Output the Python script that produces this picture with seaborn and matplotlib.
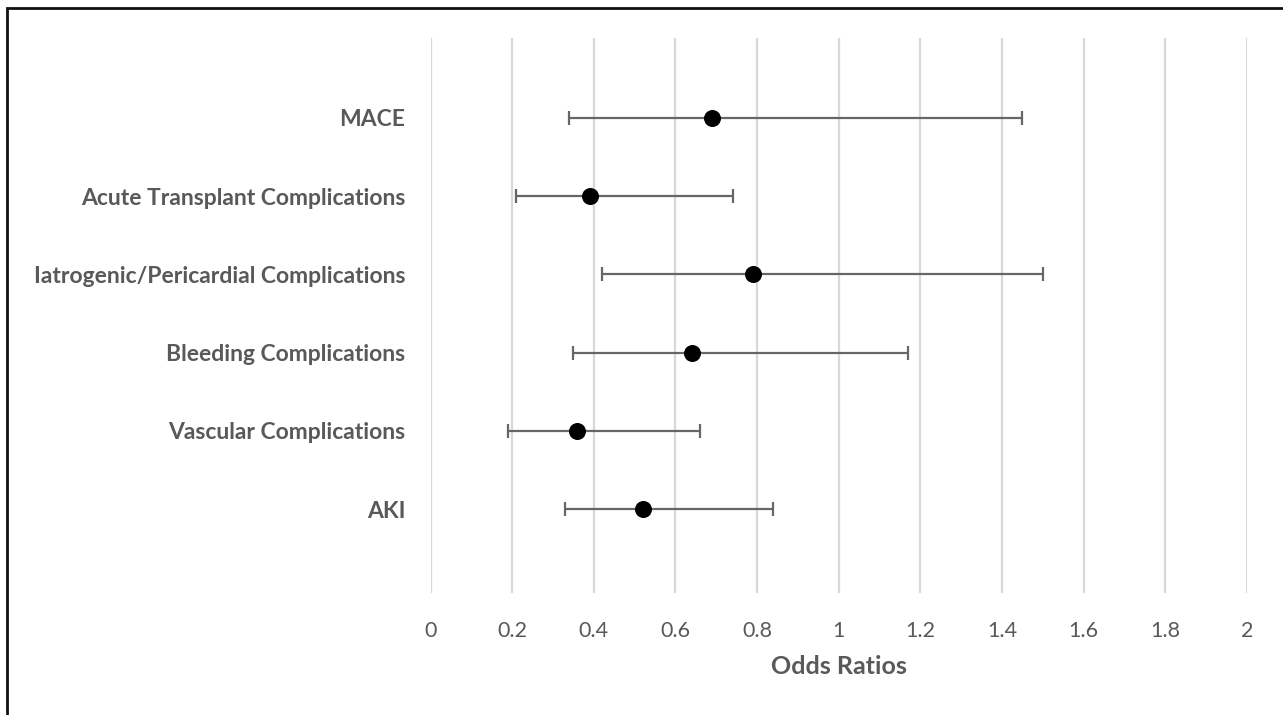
import matplotlib
matplotlib.use("Agg")
import matplotlib.pyplot as plt
import seaborn as sns
import pandas as pd
import numpy as np
from matplotlib.patches import Rectangle

outcomes = ["MACE", "Acute Transplant Complications", "Iatrogenic/Pericardial Complications",
            "Bleeding Complications", "Vascular Complications", "AKI"]
odds_ratio = [0.69, 0.39, 0.79, 0.64, 0.36, 0.52]
ci_lower = [0.34, 0.21, 0.42, 0.35, 0.19, 0.33]
ci_upper = [1.45, 0.74, 1.50, 1.17, 0.66, 0.84]
x_ticks = [0, 0.2, 0.4, 0.6, 0.8, 1, 1.2, 1.4, 1.6, 1.8, 2]
x_tick_labels = ["0", "0.2", "0.4", "0.6", "0.8", "1", "1.2", "1.4", "1.6", "1.8", "2"]

df = pd.DataFrame({"outcome": outcomes, "or": odds_ratio, "lo": ci_lower, "hi": ci_upper})

sns.set_theme(style="white")
plt.rcParams['font.family'] = ['Lato', 'DejaVu Sans']

W, H = 1283, 715
fig = plt.figure(figsize=(W / 100, H / 100), dpi=100)
ax = fig.add_axes([430.5 / W, (H - 593) / H, (1247 - 430.5) / W, (593 - 38) / H])

text_col = "#595959"
pos = np.arange(len(outcomes))
ax.errorbar(df["or"], pos, xerr=[df["or"] - df["lo"], df["hi"] - df["or"]],
            fmt="none", ecolor="#666666", elinewidth=1.6, capsize=5, capthick=1.6, zorder=2)
sns.scatterplot(data=df, x="or", y=pos, color="black", s=150, edgecolor="black",
                linewidth=0, ax=ax, zorder=3)

ax.set_xlim(0, 2)
ax.set_ylim(6.07, -1.02)
ax.set_xticks(x_ticks)
ax.set_xticklabels(x_tick_labels, color=text_col, fontsize=15.5)
ax.set_yticks(pos)
ax.set_yticklabels(outcomes, color=text_col, fontsize=16.5, fontweight="bold")
ax.tick_params(axis="x", length=0, pad=20)
ax.tick_params(axis="y", length=0, pad=18)
ax.grid(axis="x", color="#d9d9d9", linewidth=1.6)
ax.grid(axis="y", visible=False)
for s in ax.spines.values():
    s.set_visible(False)
ax.set_xlabel("Odds Ratios", color=text_col, fontsize=18, fontweight="bold", labelpad=10)
ax.set_ylabel("")

fig.patches.append(Rectangle((7 / W, -0.05), 1.2, (H - 8) / H + 0.05, transform=fig.transFigure,
                             fill=False, edgecolor="#111111", linewidth=2, zorder=10))

fig.savefig("out.png", dpi=100)
